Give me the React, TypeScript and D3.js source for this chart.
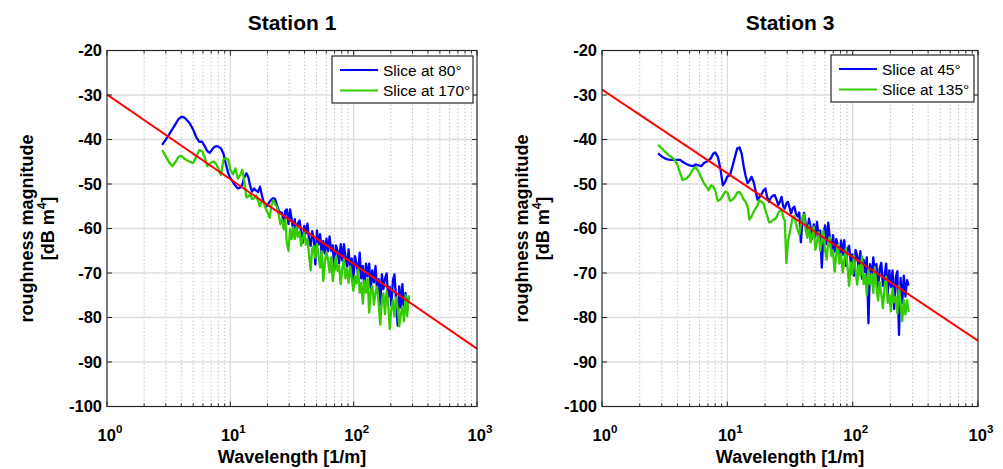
import React from 'react';
import * as d3 from 'd3';

// shared wavelength sample grid [1/m]
const X_GRID = [
  2.8, 3.0, 3.2, 3.4, 3.6, 3.8, 4.0, 4.2, 4.4, 4.7,
  5.0, 5.3, 5.6, 5.9, 6.2, 6.5, 6.8, 7.1, 7.4, 7.7,
  8.0, 8.4, 8.8, 9.2, 9.6, 10.0, 10.5, 11.0, 11.5, 12.0,
  12.5, 13.0, 13.5, 14.0, 14.5, 15.0, 15.6, 16.2, 16.8, 17.4,
  18.0, 18.7, 19.4, 20.1, 20.8, 21.5, 22.3, 23.1, 23.9, 24.7,
  25.5,
  26.3, 27.1, 27.9, 28.7, 29.6, 30.5, 31.4, 32.3, 33.3, 34.3,
  35.3, 36.4, 37.5, 38.6, 39.8, 41.0, 42.2, 43.5, 44.8, 46.1,
  47.5, 48.9, 50.4, 51.9, 53.5, 55.1, 56.7, 58.4, 60.2, 62.0,
  63.8, 65.7, 67.7, 69.7, 71.8, 74.0, 76.2, 78.5, 80.8, 83.3,
  85.7, 88.3, 91.0, 93.7, 96.5, 99.4, 102.4, 105.5, 108.6, 111.9,
  115.2, 118.7, 122.2, 125.9, 129.7, 133.6, 137.6, 141.7, 146.0, 150.3,
  154.8, 159.5, 164.3, 169.2, 174.3, 179.5, 184.9, 190.4, 196.1, 202.0,
  208.1, 214.3, 220.7, 227.4, 234.2, 241.2, 248.4, 255.9, 263.6, 271.5,
  279.6,
];

// Station 1, slice at 80°
const S1_BLUE = [
  -41.2, -40.0, -38.8, -37.6, -36.5, -35.4, -34.9, -35.0, -35.5, -36.4,
  -37.8, -39.5, -40.5, -40.5, -41.5, -42.6, -43.0, -42.3, -41.7, -41.5,
  -41.6, -42.0, -43.2, -45.5, -47.5, -48.7, -49.5, -50.4, -51.0, -50.8,
  -50.2, -48.5, -47.6, -48.5, -50.5, -51.7, -51.0, -51.5, -51.8, -50.6,
  -52.5, -54.2, -55.1, -54.8, -54.0, -53.5, -53.2, -53.4, -54.8, -56.0,
  -56.4,
  -56.5, -59.7, -56.0, -55.7, -59.0, -55.7, -57.9, -60.2, -57.9, -61.2,
  -58.9, -58.2, -60.9, -63.2, -59.4, -61.1, -58.9, -62.6, -63.9, -60.6,
  -62.4, -68.1, -60.4, -63.6, -61.3, -66.1, -62.8, -65.6, -62.3, -65.1,
  -61.8, -65.0, -63.8, -69.5, -63.8, -65.0, -67.8, -63.5, -67.2, -63.5,
  -66.2, -68.5, -64.7, -69.5, -66.7, -71.5, -66.2, -67.9, -70.2, -65.4,
  -71.2, -68.4, -73.7, -67.9, -70.7, -67.9, -73.6, -69.4, -72.1, -68.4,
  -74.1, -71.4, -77.1, -70.3, -73.6, -71.3, -70.1, -75.3, -73.1, -77.3,
  -71.6, -70.3, -76.0, -81.8, -73.0, -77.8, -72.5, -78.8, -74.5, -78.2,
  -75.5,
];

// Station 1, slice at 170°
const S1_GREEN = [
  -42.4, -43.8, -45.2, -46.0, -45.0, -43.9, -43.7, -44.2, -44.6, -45.0,
  -45.3, -43.8, -42.4, -42.6, -44.0, -46.0, -45.5, -45.0, -45.0, -45.6,
  -46.5, -48.0, -44.5, -44.2, -44.5, -46.8, -47.8, -46.5, -48.8, -48.0,
  -46.8, -49.5, -53.0, -52.8, -52.3, -53.4, -53.2, -52.6, -53.8, -55.0,
  -53.8, -54.2, -55.6, -56.5, -57.6, -55.0, -53.6, -54.5, -55.2, -57.0,
  -59.0,
  -58.0, -60.2, -58.0, -63.2, -65.0, -60.2, -62.4, -59.7, -62.4, -59.7,
  -61.9, -60.7, -63.9, -62.2, -60.9, -63.6, -62.4, -66.1, -69.4, -64.6,
  -63.9, -66.6, -63.4, -66.1, -68.8, -65.1, -71.8, -67.6, -65.3, -67.1,
  -69.8, -66.5, -71.8, -68.5, -66.3, -69.5, -68.3, -72.5, -69.2, -67.0,
  -71.2, -69.0, -72.2, -68.5, -71.2, -74.0, -70.7, -72.4, -69.2, -74.4,
  -72.2, -76.9, -71.7, -74.4, -71.2, -78.9, -74.1, -72.9, -77.1, -74.4,
  -73.1, -76.9, -81.6, -76.3, -74.6, -79.3, -74.1, -76.8, -82.6, -78.3,
  -76.1, -79.8, -75.5, -77.8, -82.0, -79.3, -77.5, -80.8, -75.0, -79.7,
  -75.0,
];

// Station 3, slice at 45°
const S3_BLUE = [
  -43.1, -43.8, -44.3, -44.5, -44.6, -44.6, -44.6, -44.6, -45.0, -45.5,
  -45.8, -46.0, -45.6, -45.8, -46.0, -45.3, -45.0, -44.7, -44.2, -43.2,
  -42.9, -43.9, -46.5, -50.3, -49.5, -48.3, -48.0, -46.0, -43.9, -42.0,
  -41.8, -43.1, -46.0, -48.2, -49.8, -49.3, -48.4, -49.5, -51.5, -53.5,
  -53.0, -52.3, -51.5, -51.0, -53.0, -54.0, -53.0, -52.6, -52.5, -53.5,
  -54.7,
  -54.0, -52.9, -55.0, -55.5, -54.3, -54.0, -55.4, -56.6, -55.4, -55.1,
  -56.7, -57.3, -56.4, -63.1, -57.9, -56.5, -58.9, -61.1, -57.8, -59.6,
  -62.3, -59.1, -61.8, -58.5, -61.8, -60.5, -68.8, -61.5, -59.3, -63.5,
  -58.7, -62.0, -65.2, -61.5, -65.2, -62.4, -63.7, -66.9, -62.7, -65.9,
  -62.6, -68.4, -64.6, -63.9, -67.6, -65.8, -70.6, -64.8, -66.1, -69.3,
  -65.1, -71.3, -67.0, -69.8, -66.5, -81.3, -68.0, -71.7, -66.5, -70.2,
  -68.0, -74.2, -69.0, -67.7, -72.9, -70.7, -67.9, -74.7, -69.4, -73.1,
  -69.4, -78.1, -70.9, -69.6, -83.9, -71.1, -76.8, -70.6, -75.3, -71.6,
  -72.8,
];

// Station 3, slice at 135°
const S3_GREEN = [
  -41.2, -42.0, -42.8, -43.5, -44.0, -44.6, -45.7, -47.5, -49.1, -48.8,
  -48.0, -46.8, -46.2, -47.3, -48.6, -49.8, -50.6, -51.4, -50.3, -50.5,
  -51.4, -53.8, -53.5, -52.6, -51.7, -51.9, -53.8, -53.5, -52.9, -51.9,
  -51.8, -52.5, -53.5, -54.0, -55.0, -58.0, -57.3, -56.3, -55.5, -54.8,
  -53.6, -54.0, -54.3, -55.8, -57.2, -58.6, -58.5, -58.1, -57.9, -57.5,
  -56.5,
  -56.0, -55.7, -57.5, -58.2, -67.8, -62.7, -61.1, -59.2, -57.4, -57.2,
  -58.9, -60.3, -61.4, -59.1, -57.4, -56.8, -60.4, -62.1, -59.3, -63.1,
  -61.8, -59.6, -64.8, -63.0, -60.8, -65.0, -62.8, -60.5, -64.8, -67.0,
  -63.2, -62.0, -66.2, -65.0, -69.7, -65.9, -63.7, -67.9, -65.7, -69.9,
  -67.1, -64.4, -68.6, -72.9, -67.6, -70.3, -66.1, -69.3, -72.6, -68.3,
  -70.6, -66.3, -72.5, -70.3, -75.0, -69.3, -72.5, -70.2, -74.5, -68.7,
  -73.0, -76.2, -72.0, -74.7, -77.9, -73.2, -70.9, -76.7, -74.9, -78.6,
  -73.4, -76.6, -75.4, -79.1, -72.9, -77.1, -80.8, -76.1, -79.3, -76.1,
  -78.8,
];

// fitted trend lines (endpoints at 10^0 and 10^3)
const TREND_X = [1, 1000];
const S1_TREND = [-29.9, -87.0];
const S3_TREND = [-28.8, -85.2];

const Y_TICKS = [-20, -30, -40, -50, -60, -70, -80, -90, -100];
const X_TICKS = [1, 10, 100, 1000];
const X_TICK_EXP = ['0', '1', '2', '3'];
const S1_LEGEND = ['Slice at 80°', 'Slice at 170°'];
const S3_LEGEND = ['Slice at 45°', 'Slice at 135°'];

const FONT = '"Liberation Sans", Arial, Helvetica, sans-serif';
const BLUE = '#0000ff';
const GREEN = '#33cc00';
const RED = '#ff0000';
const AXIS = '#262626';

const TOP = 50.5;
const BOTTOM = 406.5;

type PanelProps = {
  id: string;
  left: number;
  right: number;
  title: string;
  blue: number[];
  green: number[];
  trend: number[];
  legend: string[];
  legendBox: [number, number, number, number];
};

function Panel({ id, left, right, title, blue, green, trend, legend, legendBox }: PanelProps) {
  const x = d3.scaleLog().domain([1, 1000]).range([left, right]);
  const y = d3.scaleLinear().domain([-100, -20]).range([BOTTOM, TOP]);
  const line = d3
    .line<[number, number]>()
    .x((d) => x(d[0]))
    .y((d) => y(d[1]));
  const n = Math.min(X_GRID.length, blue.length, green.length);
  const bluePts: [number, number][] = [];
  const greenPts: [number, number][] = [];
  for (let i = 0; i < n; i++) {
    bluePts.push([X_GRID[i], blue[i]]);
    greenPts.push([X_GRID[i], green[i]]);
  }
  const trendPts: [number, number][] = TREND_X.map((v, i) => [v, trend[i]]);

  const minor: number[] = [];
  for (let e = 0; e < 3; e++) {
    for (let k = 2; k <= 9; k++) minor.push(k * Math.pow(10, e));
  }
  const cx = (left + right) / 2;
  const cy = (TOP + BOTTOM) / 2;
  const [lx, ly, lw, lh] = legendBox;

  return (
    <g>
      <defs>
        <clipPath id={`clip-${id}`}>
          <rect x={left} y={TOP} width={right - left} height={BOTTOM - TOP} />
        </clipPath>
      </defs>
      <rect x={left} y={TOP} width={right - left} height={BOTTOM - TOP} fill="#fff" />
      {/* minor x grid */}
      {minor.map((m) => (
        <line
          key={'mg' + m}
          x1={x(m)}
          x2={x(m)}
          y1={TOP}
          y2={BOTTOM}
          stroke="#b8b8b8"
          strokeWidth={1}
          strokeDasharray="1.2,2.4"
        />
      ))}
      {/* major grid */}
      {X_TICKS.slice(1, 3).map((t) => (
        <line key={'xg' + t} x1={x(t)} x2={x(t)} y1={TOP} y2={BOTTOM} stroke="#dcdcdc" strokeWidth={1.3} />
      ))}
      {Y_TICKS.slice(1, -1).map((t) => (
        <line key={'yg' + t} x1={left} x2={right} y1={y(t)} y2={y(t)} stroke="#dcdcdc" strokeWidth={1.3} />
      ))}
      {/* data */}
      <g clipPath={`url(#clip-${id})`}>
        <path d={line(bluePts) || ''} fill="none" stroke={BLUE} strokeWidth={2.3} strokeLinejoin="round" />
        <path d={line(greenPts) || ''} fill="none" stroke={GREEN} strokeWidth={2.3} strokeLinejoin="round" />
        <path d={line(trendPts) || ''} fill="none" stroke={RED} strokeWidth={2} />
      </g>
      {/* ticks */}
      {minor.map((m) => (
        <g key={'mt' + m}>
          <line x1={x(m)} x2={x(m)} y1={BOTTOM} y2={BOTTOM - 3} stroke={AXIS} strokeWidth={1} />
          <line x1={x(m)} x2={x(m)} y1={TOP} y2={TOP + 3} stroke={AXIS} strokeWidth={1} />
        </g>
      ))}
      {X_TICKS.map((t) => (
        <g key={'xt' + t}>
          <line x1={x(t)} x2={x(t)} y1={BOTTOM} y2={BOTTOM - 5} stroke={AXIS} strokeWidth={1} />
          <line x1={x(t)} x2={x(t)} y1={TOP} y2={TOP + 5} stroke={AXIS} strokeWidth={1} />
        </g>
      ))}
      {Y_TICKS.map((t) => (
        <g key={'yt' + t}>
          <line x1={left} x2={left + 5} y1={y(t)} y2={y(t)} stroke={AXIS} strokeWidth={1} />
          <line x1={right} x2={right - 5} y1={y(t)} y2={y(t)} stroke={AXIS} strokeWidth={1} />
        </g>
      ))}
      <rect x={left} y={TOP} width={right - left} height={BOTTOM - TOP} fill="none" stroke={AXIS} strokeWidth={1.2} />
      {/* tick labels */}
      {Y_TICKS.map((t) => (
        <text
          key={'yl' + t}
          x={left - 5}
          y={y(t)}
          dy="0.36em"
          textAnchor="end"
          fontFamily={FONT}
          fontWeight="bold"
          fontSize={16.5}
          fill="#000"
        >
          {t}
        </text>
      ))}
      {X_TICKS.map((t, i) => (
        <text
          key={'xl' + t}
          x={x(t) + 3}
          y={441}
          textAnchor="middle"
          fontFamily={FONT}
          fontWeight="bold"
          fontSize={16.5}
          fill="#000"
        >
          10
          <tspan dy={-8} fontSize={11.5}>
            {X_TICK_EXP[i]}
          </tspan>
        </text>
      ))}
      {/* axis labels */}
      <text x={cx} y={463} textAnchor="middle" fontFamily={FONT} fontWeight="bold" fontSize={18} fill="#000">
        Wavelength [1/m]
      </text>
      <g transform={`translate(${left - 74},${cy}) rotate(-90)`}>
        <text x={0} y={0} textAnchor="middle" fontFamily={FONT} fontWeight="bold" fontSize={18} fill="#000">
          roughness magnitude
        </text>
        <text x={0} y={21} textAnchor="middle" fontFamily={FONT} fontWeight="bold" fontSize={18} fill="#000">
          [dB m
          <tspan dy={-8} fontSize={12}>
            4
          </tspan>
          <tspan dy={8}>]</tspan>
        </text>
      </g>
      {/* title */}
      <text x={cx} y={30} textAnchor="middle" fontFamily={FONT} fontWeight="bold" fontSize={21} fill="#000">
        {title}
      </text>
      {/* legend */}
      <rect x={lx} y={ly} width={lw} height={lh} fill="#fff" stroke={AXIS} strokeWidth={1.2} />
      {[BLUE, GREEN].map((c, i) => (
        <g key={'lg' + i}>
          <line x1={lx + 8} x2={lx + 46} y1={ly + 14 + i * 20.5} y2={ly + 14 + i * 20.5} stroke={c} strokeWidth={2} />
          <text
            x={lx + 51}
            y={ly + 14 + i * 20.5}
            dy="0.36em"
            fontFamily={FONT}
            fontSize={15.5}
            fill="#000"
          >
            {legend[i]}
          </text>
        </g>
      ))}
    </g>
  );
}

export default function App() {
  return (
    <svg
      width={1003}
      height={469}
      viewBox="0 0 1003 469"
      style={{ position: 'absolute', left: 0, top: 0, background: '#fff' }}
    >
      <rect x={0} y={0} width={1003} height={469} fill="#fff" />
      <Panel
        id="s1"
        left={107}
        right={477}
        title="Station 1"
        blue={S1_BLUE}
        green={S1_GREEN}
        trend={S1_TREND}
        legend={S1_LEGEND}
        legendBox={[332, 56, 141, 47]}
      />
      <Panel
        id="s3"
        left={602}
        right={978}
        title="Station 3"
        blue={S3_BLUE}
        green={S3_GREEN}
        trend={S3_TREND}
        legend={S3_LEGEND}
        legendBox={[831, 55, 143, 47]}
      />
    </svg>
  );
}
